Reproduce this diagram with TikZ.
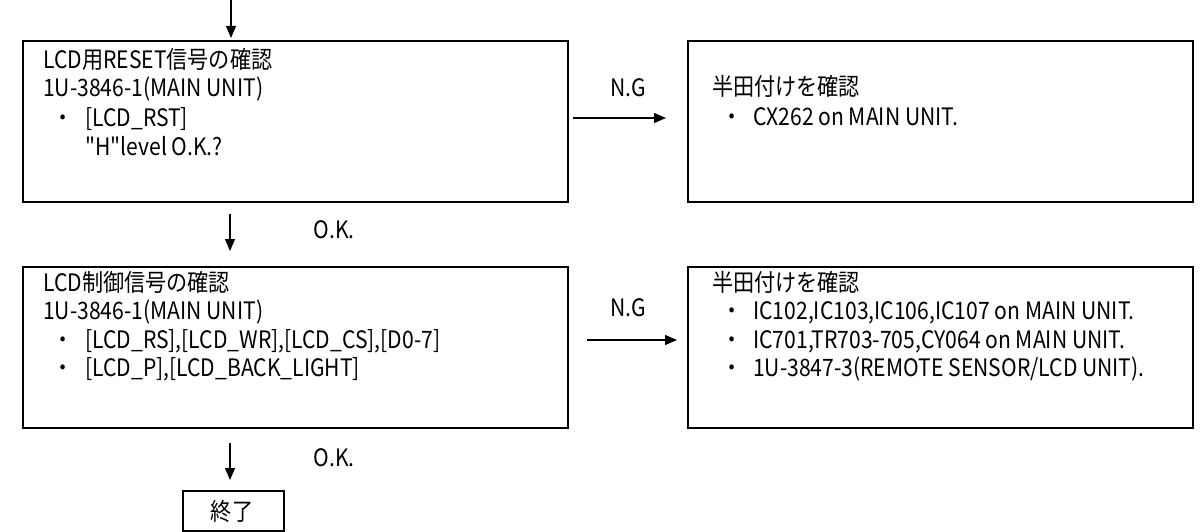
\documentclass[tikz,border=0pt]{standalone}
\usepackage{fontspec}
\newfontfamily\jp{Noto Sans CJK JP}[FakeStretch=0.88]
\usetikzlibrary{arrows.meta}
\tikzset{
  box/.style={draw, line width=1.9pt, inner sep=0pt, anchor=north west},
  txt/.style={anchor=base west, inner sep=0pt, font=\jp\fontsize{24}{28}\selectfont},
  bul/.style={anchor=base, inner sep=0pt, font=\jp\fontsize{24}{28}\selectfont},
  lab/.style={anchor=center, inner sep=0pt, font=\jp\fontsize{24}{28}\selectfont},
  arr/.style={line width=1.1pt, -{Triangle[length=12pt,width=10pt]}},
}
\begin{document}
\begin{tikzpicture}[x=1pt,y=-1pt]
\useasboundingbox (0,0) rectangle (1201,532);
% boxes
\node[box, minimum width=545pt, minimum height=161pt] (b1) at (22,40) {};
\node[box, minimum width=505pt, minimum height=161pt] (b2) at (687,40) {};
\node[box, minimum width=545pt, minimum height=161pt] (b3) at (22,266) {};
\node[box, minimum width=505pt, minimum height=161pt] (b4) at (687,266) {};
\node[box, minimum width=101pt, minimum height=40pt] (b5) at (182,490) {};
\node[lab] (t5) at (232,511) {終了};
% box1 text
\node[txt] (t11) at (43,69) {LCD用RESET信号の確認};
\node[txt] (t12) at (43,97) {1U-3846-1(MAIN UNIT)};
\node[bul] (d13) at (63,126) {・};
\node[txt] (t13) at (85,126) {[LCD\_RST]};
\node[txt] (t14) at (85,155) {"H"level O.K.?};
% box2 text
\node[txt] (t21) at (712,96) {半田付けを確認};
\node[bul] (d22) at (732,125) {・};
\node[txt] (t22) at (753,125) {CX262 on MAIN UNIT.};
% box3 text
\node[txt] (t31) at (43,291) {LCD制御信号の確認};
\node[txt] (t32) at (43,319) {1U-3846-1(MAIN UNIT)};
\node[bul] (d33) at (63,348) {・};
\node[txt] (t33) at (85,348) {[LCD\_RS],[LCD\_WR],[LCD\_CS],[D0-7]};
\node[bul] (d34) at (63,376) {・};
\node[txt] (t34) at (85,376) {[LCD\_P],[LCD\_BACK\_LIGHT]};
% box4 text
\node[txt] (t41) at (712,291) {半田付けを確認};
\node[bul] (d42) at (732,319) {・};
\node[txt] (t42) at (753,319) {IC102,IC103,IC106,IC107 on MAIN UNIT.};
\node[bul] (d43) at (732,348) {・};
\node[txt] (t43) at (753,348) {IC701,TR703-705,CY064 on MAIN UNIT.};
\node[bul] (d44) at (732,376) {・};
\node[txt] (t44) at (753,376) {1U-3847-3(REMOTE SENSOR/LCD UNIT).};
% labels
\node[lab] (ng1) at (628,88) {N.G};
\node[lab] (ng2) at (628,308) {N.G};
\node[lab] (ok1) at (334,230) {O.K.};
\node[lab] (ok2) at (334,458) {O.K.};
% arrow coordinates
\coordinate (s0) at (231,0);
\coordinate (e0) at (231,38);
\coordinate (s1) at (230,214);
\coordinate (e1) at (230,251);
\coordinate (s2) at (230,443);
\coordinate (e2) at (230,480);
\coordinate (s3) at (573,118);
\coordinate (e3) at (666,118);
\coordinate (s4) at (587,340);
\coordinate (e4) at (677,340);
\draw[arr] (s0) -- (e0);
\draw[arr] (s1) -- (e1);
\draw[arr] (s2) -- (e2);
\draw[arr] (s3) -- (e3);
\draw[arr] (s4) -- (e4);
\end{tikzpicture}
\end{document}
